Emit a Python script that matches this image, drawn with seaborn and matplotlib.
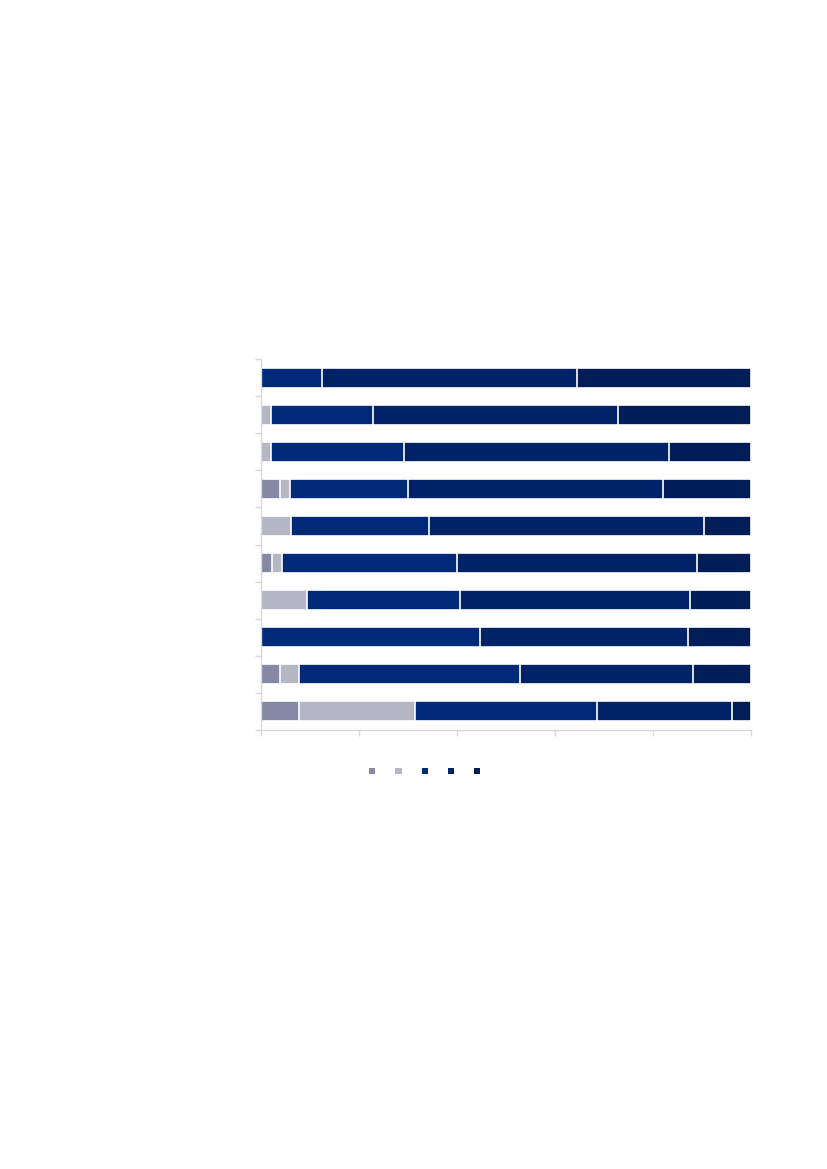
import matplotlib
matplotlib.use("Agg")
import matplotlib.pyplot as plt
from matplotlib.patches import Patch
import numpy as np
import pandas as pd
import seaborn as sns

sns.set_theme(style="white")

# rows from top to bottom, shares in percent (chart has no visible labels)
rows = ["r1", "r2", "r3", "r4", "r5", "r6", "r7", "r8", "r9", "r10"]
seg1 = [0.0, 0.0, 0.0, 3.9, 0.0, 2.3, 0.0, 0.0, 3.9, 7.8]
seg2 = [0.0, 2.1, 2.1, 2.1, 6.1, 2.0, 9.4, 0.0, 3.9, 23.7]
seg3 = [12.5, 20.8, 27.1, 24.1, 28.1, 35.7, 31.2, 44.7, 45.0, 37.1]
seg4 = [52.0, 50.0, 54.1, 52.0, 56.3, 48.9, 47.0, 42.5, 35.3, 27.6]
seg5 = [35.5, 27.1, 16.7, 17.9, 9.5, 11.1, 12.4, 12.8, 11.9, 3.8]

colors = ["#8589A6", "#B5B7C5", "#002A78", "#002266", "#001D57"]

df = pd.DataFrame({"row": rows, "s1": seg1, "s2": seg2, "s3": seg3,
                   "s4": seg4, "s5": seg5})
segs = ["s1", "s2", "s3", "s4", "s5"]
cum = df[segs].cumsum(axis=1)

fig = plt.figure(figsize=(8.27, 11.69), dpi=100)
ax = fig.add_axes([261 / 827, 1 - 730 / 1169, 490 / 827, 371 / 1169])

# stacked bars drawn as overlapping cumulative layers, longest first
for seg, col in reversed(list(zip(segs, colors))):
    sns.barplot(x=cum[seg], y=df["row"], orient="h", color=col,
                saturation=1, width=0.54, edgecolor="white",
                linewidth=1.2, ax=ax)

ax.set_xlim(0, 100)
ax.set_ylim(9.5, -0.5)
ax.set_xticks(np.arange(0, 101, 20))
ax.set_yticks(np.arange(-0.5, 10, 1))
ax.set_xticklabels([])
ax.set_yticklabels([])
ax.set_xlabel("")
ax.set_ylabel("")
ax.tick_params(axis="both", direction="out", length=4, width=1,
               color="#D9D9D9", bottom=True, left=True)
for side in ["top", "right"]:
    ax.spines[side].set_visible(False)
for side in ["left", "bottom"]:
    ax.spines[side].set_color("#D9D9D9")
    ax.spines[side].set_linewidth(1)

handles = [Patch(facecolor=c, edgecolor="none") for c in colors]
ax.legend(handles, [""] * 5, ncol=5, loc="center",
          bbox_to_anchor=(0.343, -0.113), frameon=False, fontsize=8,
          handlelength=0.55, handleheight=0.55, handletextpad=0.8,
          columnspacing=1.0)

fig.savefig("out.png", dpi=100)
